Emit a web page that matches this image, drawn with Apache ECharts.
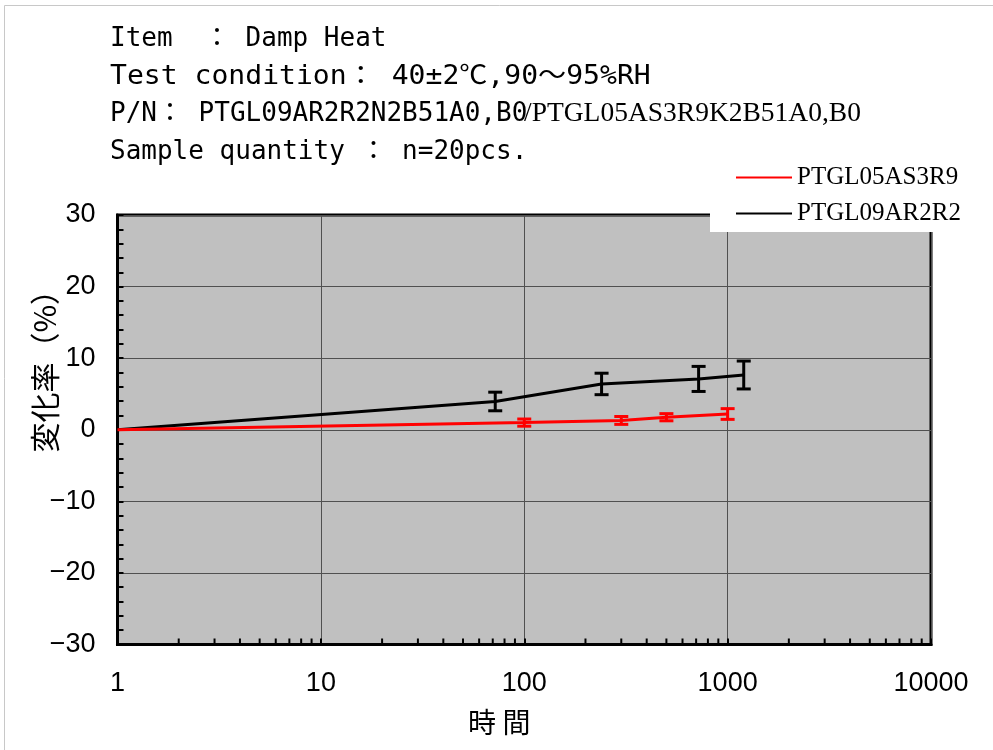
<!DOCTYPE html>
<html>
<head>
<meta charset="utf-8">
<script src="https://cdn.jsdelivr.net/npm/echarts@6/dist/echarts.min.js"></script>
<style>
  html, body { margin: 0; padding: 0; background: #fff; }
  #chart { width: 993px; height: 750px; }
</style>
</head>
<body>
<div id="chart"></div>
<script>
// Test hours (log scale) and change rate (%) with spread for each part number
const hours05 = [1, 100, 300, 500, 1000];
const rate05 = [0, 1.0, 1.3, 1.75, 2.2];
const err05 = [0, 0.5, 0.55, 0.5, 0.75];

const hours09 = [1, 72, 240, 720, 1200];
const rate09 = [0, 3.95, 6.4, 7.1, 7.65];
const err09 = [0, 1.3, 1.5, 1.75, 1.95];

const seriesNames = ['PTGL05AS3R9', 'PTGL09AR2R2'];
const xTickLabels = ['1', '10', '100', '1000', '10000'];
const yTickLabels = ['-30', '-20', '-10', '0', '10', '20', '30'];

// log-axis minor tick multipliers inside each decade
const minorMultipliers = [2, 3, 4, 5, 6, 7, 8, 9];
const decades = [1, 10, 100, 1000];

const headerLines = [
  'Item  ： Damp Heat',
  'Test condition： 40±2℃,90～95%RH',
  'P/N： PTGL09AR2R2N2B51A0,B0',
  'Sample quantity ： n=20pcs.'
];
const pnSerifPart = '/PTGL05AS3R9K2B51A0,B0';

const monoFont = '26px "DejaVu Sans Mono", "Noto Sans CJK JP", monospace';

const minorTickData = [];
decades.forEach(d => minorMultipliers.forEach(m => minorTickData.push([d * m])));

function pairs(xs, ys) { return xs.map((x, i) => [x, ys[i]]); }
function errData(xs, ys, es) {
  return xs.map((x, i) => [x, ys[i] - es[i], ys[i] + es[i]]).filter((d, i) => es[i] > 0);
}

function errorBarRenderer(color) {
  return function (params, api) {
    const x = api.value(0);
    const lo = api.coord([x, api.value(1)]);
    const hi = api.coord([x, api.value(2)]);
    const half = 7;
    const style = { stroke: color, lineWidth: 3 };
    return {
      type: 'group',
      children: [
        { type: 'line', shape: { x1: lo[0], y1: lo[1], x2: hi[0], y2: hi[1] }, style: style },
        { type: 'line', shape: { x1: lo[0] - half, y1: lo[1], x2: lo[0] + half, y2: lo[1] }, style: style },
        { type: 'line', shape: { x1: hi[0] - half, y1: hi[1], x2: hi[0] + half, y2: hi[1] }, style: style }
      ]
    };
  };
}

const chart = echarts.init(document.getElementById('chart'), null, { renderer: 'canvas' });

const headerY = [39, 77, 114, 152];
const headerScaleX = [1, 1.08, 1, 1];
const graphics = [
  {
    type: 'rect', z: -10, silent: true,
    shape: { x: 4.5, y: 5.5, width: 1000, height: 760 },
    style: { fill: '#fff', stroke: '#c8c8c8', lineWidth: 1 }
  }
];
headerLines.forEach((t, i) => {
  graphics.push({
    id: 'hdr' + i,
    type: 'text', x: 110, y: headerY[i], scaleX: headerScaleX[i],
    style: { text: t, font: monoFont, fill: '#000', textVerticalAlign: 'middle', textAlign: 'left' }
  });
});
graphics.push({
  id: 'hdrSerif',
  type: 'text', x: 524, y: 114,
  style: { text: pnSerifPart, font: '27.5px "Liberation Serif", serif', fill: '#000', textVerticalAlign: 'middle', textAlign: 'left' }
});

const option = {
  animation: false,
  backgroundColor: '#fff',
  grid: {
    left: 117.5, right: 62, top: 215, bottom: 105.5,
    show: true, backgroundColor: '#c0c0c0', borderColor: '#000', borderWidth: 3
  },
  legend: {
    data: seriesNames,
    orient: 'vertical',
    left: 710, top: 160,
    backgroundColor: '#fff',
    padding: [5, 40, 6, 26],
    icon: 'rect',
    itemWidth: 56, itemHeight: 2, itemGap: 11,
    z: 10,
    textStyle: { fontFamily: '"Liberation Serif", serif', fontSize: 25, color: '#000', lineHeight: 25 }
  },
  xAxis: {
    type: 'log', logBase: 10, min: 1, max: 10000,
    name: '時 間', nameLocation: 'middle', nameGap: 64,
    nameTextStyle: { fontFamily: '"Noto Sans CJK JP", sans-serif', fontSize: 28, color: '#000', padding: [0, 50, 0, 0] },
    axisLine: { onZero: false, lineStyle: { color: '#000', width: 3 } },
    axisTick: { inside: true, length: 6, lineStyle: { color: '#000', width: 2 } },
    axisLabel: {
      margin: 26, color: '#000', fontSize: 27, fontFamily: '"Liberation Sans", sans-serif',
      formatter: v => xTickLabels.find(t => Number(t) === Math.round(v)) || ''
    },
    splitLine: { show: true, lineStyle: { color: '#505050', width: 1 } }
  },
  yAxis: {
    type: 'value', min: -30, max: 30, interval: 10,
    name: '変化率（%）', nameLocation: 'middle', nameGap: 58, nameRotate: 90,
    nameMoveOverlap: false,
    nameTextStyle: { fontFamily: '"Noto Sans CJK JP", sans-serif', fontSize: 30, color: '#000', padding: [0, 0, 0, 132] },
    axisLine: { onZero: false, lineStyle: { color: '#000', width: 3 } },
    axisTick: { inside: true, length: 6, lineStyle: { color: '#000', width: 2 } },
    minorTick: { show: true, splitNumber: 5, length: 6, lineStyle: { color: '#000', width: 2 } },
    axisLabel: {
      margin: 22, color: '#000', fontSize: 27, fontFamily: '"Liberation Sans", sans-serif',
      formatter: v => {
        const t = yTickLabels.find(s => Number(s) === v);
        return t === undefined ? '' : t.replace('-', '−');
      }
    },
    splitLine: { show: true, lineStyle: { color: '#505050', width: 1 } }
  },
  graphic: graphics,
  series: [
    {
      name: seriesNames[0], type: 'line', data: pairs(hours05, rate05),
      symbol: 'none', z: 4,
      lineStyle: { color: '#ff0000', width: 3 }, itemStyle: { color: '#ff0000' }
    },
    {
      name: seriesNames[1], type: 'line', data: pairs(hours09, rate09),
      symbol: 'none', z: 3,
      lineStyle: { color: '#000', width: 3 }, itemStyle: { color: '#000' }
    },
    {
      name: 'err05', type: 'custom', data: errData(hours05, rate05, err05),
      renderItem: errorBarRenderer('#ff0000'), z: 5, silent: true
    },
    {
      name: 'err09', type: 'custom', data: errData(hours09, rate09, err09),
      renderItem: errorBarRenderer('#000'), z: 5, silent: true
    },
    {
      name: 'xMinorTicks', type: 'custom', data: minorTickData, silent: true, z: 2,
      renderItem: function (params, api) {
        const p = api.coord([api.value(0), -30]);
        return {
          type: 'line',
          shape: { x1: p[0], y1: p[1], x2: p[0], y2: p[1] - 6 },
          style: { stroke: '#000', lineWidth: 2 }
        };
      }
    }
  ]
};

chart.setOption(option);
</script>
</body>
</html>
